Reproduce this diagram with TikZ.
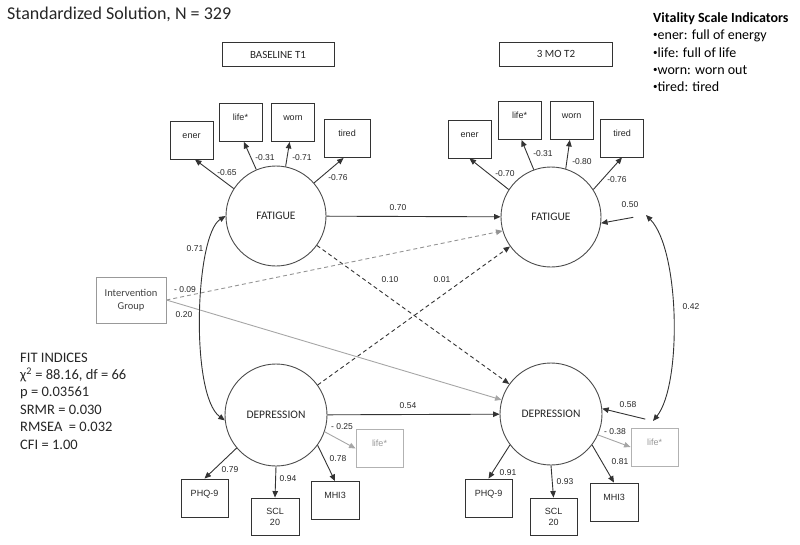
\documentclass[tikz,border=0pt]{standalone}
\usepackage{fontspec}
\setmainfont{Liberation Sans}
\newfontfamily\calfont{Carlito}
\usetikzlibrary{arrows.meta}
\newcommand\smallbul{\raisebox{2pt}{\fontsize{9}{9}\selectfont•}}

\begin{document}
\begin{tikzpicture}[x=1pt, y=-1pt,
    tip/.tip={Triangle[length=6.5pt,width=5.5pt]},
    latent/.style={circle, draw=black!70, line width=0.9pt, minimum size=100pt, inner sep=0pt,
        font=\calfont\fontsize{11.5}{12}\selectfont, text=black!85},
    box/.style={rectangle, draw=black!80, line width=0.9pt, inner sep=0pt,
        minimum width=43pt, font=\fontsize{9}{11}\selectfont, text=black!85},
    ind/.style={box, text height=17pt, text depth=21pt},
    grayind/.style={ind, draw=black!30, text=black!40, minimum width=47pt},
    timebox/.style={box, minimum height=24pt, font=\calfont\fontsize{11}{12}\selectfont},
    lab/.style={inner sep=0pt, font=\fontsize{8.5}{10}\selectfont, text=black!85},
    load/.style={draw=black!80, line width=0.9pt, -tip},
    reg/.style={load},
    dreg/.style={load, dash pattern=on 4pt off 3pt},
    greg/.style={load, draw=black!35},
    gdreg/.style={load, draw=black!42, dash pattern=on 4pt off 3pt},
    cov/.style={draw=black!80, line width=0.9pt, tip-tip}]
\useasboundingbox (0,0) rectangle (800,544);

% titles and notes
\node[anchor=base west, inner sep=0pt, font=\calfont\fontsize{18}{20}\selectfont, text=black!85] (title) at (7,19) {Standardized Solution, N = 329};
\node[anchor=north west, inner sep=0pt, align=left, font=\calfont\fontsize{14}{17.3}\selectfont] (vsi) at (653,12.5)
    {\textbf{Vitality Scale Indicators}\\\smallbul ener: full of energy\\\smallbul life: full of life\\\smallbul worn: worn out\\\smallbul tired: tired};
\node[anchor=north west, inner sep=0pt, align=left, font=\calfont\fontsize{14.5}{17.4}\selectfont, text=black!85] (fitinfo) at (20,352.5)
    {FIT INDICES\\χ\textsuperscript{2} = 88.16, df = 66\\p = 0.03561\\SRMR = 0.030\\RMSEA\ \ = 0.032\\CFI = 1.00};
\node[timebox, minimum width=112pt] (t1) at (278,54.5) {BASELINE T1};
\node[timebox, minimum width=113pt] (t2) at (556,54) {3 MO T2};

% latent variables
\node[latent] (f1) at (276,216) {FATIGUE};
\node[latent] (f2) at (551,217) {FATIGUE};
\node[latent, minimum size=102pt] (d1) at (276,415) {DEPRESSION};
\node[latent, minimum size=102pt] (d2) at (551,414) {DEPRESSION};

% indicators
\node[ind] (ener1) at (191.5,140) {ener};
\node[ind] (life1) at (240.5,122.5) {life*};
\node[ind] (worn1) at (293,122.5) {worn};
\node[ind, minimum width=46pt] (tired1) at (347,138.5) {tired};
\node[ind] (ener2) at (469.5,139) {ener};
\node[ind] (life2) at (519.5,120.5) {life*};
\node[ind] (worn2) at (571.5,120.5) {worn};
\node[ind] (tired2) at (622,138) {tired};

\node[ind, minimum width=47pt] (phq1) at (204.5,498) {PHQ-9};
\node[box, minimum width=48pt, minimum height=37pt, align=center] (scl1) at (275,516.5) {SCL\\20};
\node[ind, minimum width=48pt] (mhi1) at (335,500.5) {MHI3};
\node[grayind] (lifed1) at (379.5,448.5) {life*};
\node[ind, minimum width=47pt] (phq2) at (488.5,498) {PHQ-9};
\node[box, minimum width=47pt, minimum height=37pt, align=center] (scl2) at (553.5,516.5) {SCL\\20};
\node[ind, minimum width=48pt] (mhi2) at (614,502) {MHI3};
\node[grayind] (lifed2) at (654.5,447) {life*};

\node[box, draw=black!40, minimum width=70pt, minimum height=46pt, align=center,
      font=\calfont\fontsize{10.5}{13.5}\selectfont, text=black!75] (ig) at (131,300) {Intervention\\Group};

\coordinate (e1) at (646,215);
\coordinate (e2) at (653,421);

% loadings
\path[every edge/.style={load}]
    (f1.147) edge (ener1.280)
    (f1.113) edge (life1.280)
    (f1.79)  edge (worn1.260)
    (f1.41)  edge (tired1.260)
    (f2.147) edge (ener2.south)
    (f2.110) edge (life2.276)
    (f2.73)  edge (worn2.265)
    (f2.33)  edge (tired2.south)
    (d1.-140) edge (phq1.north)
    (d1.south) edge (scl1.north)
    (d1.-36) edge (mhi1.north)
    (d2.-143) edge (phq2.north)
    (d2.south) edge (scl2.north)
    (d2.-37) edge (mhi2.north);
\path[every edge/.style={greg}]
    (d1.-19) edge (lifed1.west)
    (d2.-24) edge (lifed2.west);

% structural paths
\path[every edge/.style={reg}] (f1) edge (f2) (d1) edge (d2);
\path[every edge/.style={dreg}] (f1) edge (d2) (d1) edge (f2);
\path (ig.east) edge[greg] (d2.164) (ig.east) edge[gdreg] (f2.196);
\draw[reg, shorten <=13pt] (e1) -- (f2.-7);
\draw[reg, shorten <=8pt] (e2) -- (d2.6);
\draw[cov] (f1.west) .. controls (195,235) and (190,395) .. (d1.186);
\draw[cov] (e1) .. controls (680,250) and (682,385) .. (e2);

% coefficients
\node[lab] (w1) at (227,173) {-0.65};
\node[lab] (w2) at (265,158) {-0.31};
\node[lab] (w3) at (302,158) {-0.71};
\node[lab] (w4) at (338,178) {-0.76};
\node[lab] (w5) at (505,174) {-0.70};
\node[lab] (w6) at (543,154) {-0.31};
\node[lab] (w7) at (582,162) {-0.80};
\node[lab] (w8) at (617,180) {-0.76};
\node[lab] (w9) at (230,470) {0.79};
\node[lab] (w10) at (288,479) {0.94};
\node[lab] (w11) at (338,459) {0.78};
\node[lab] (w12) at (342,427) {- 0.25};
\node[lab] (w13) at (508,473) {0.91};
\node[lab] (w14) at (565,482) {0.93};
\node[lab] (w15) at (620,462) {0.81};
\node[lab] (w16) at (615,432) {- 0.38};
\node[lab] (b1) at (398,208) {0.70};
\node[lab] (b2) at (408,406) {0.54};
\node[lab] (b3) at (390,280) {0.10};
\node[lab] (b4) at (442,280) {0.01};
\node[lab] (b5) at (185,290) {- 0.09};
\node[lab] (b6) at (184,315) {0.20};
\node[lab] (c1) at (195,249) {0.71};
\node[lab] (c2) at (691,307) {0.42};
\node[lab] (r1) at (630,205) {0.50};
\node[lab] (r2) at (628,405) {0.58};
\end{tikzpicture}
\end{document}
